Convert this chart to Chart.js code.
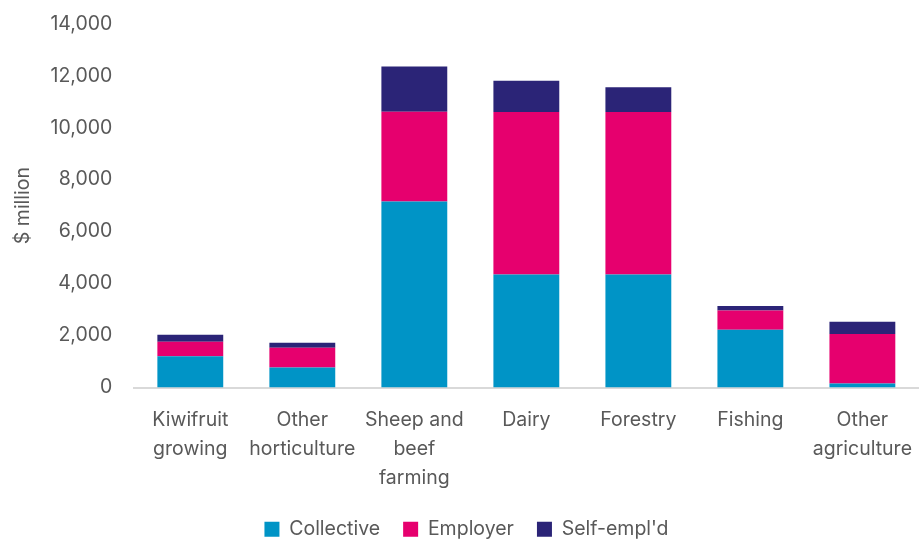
<!DOCTYPE html>
<html>
<head>
<meta charset="utf-8">
<script src="https://cdn.jsdelivr.net/npm/chart.js@4"></script>
<style>
  html, body { margin: 0; padding: 0; background: #fff; overflow: hidden; }
  #wrap { width: 922px; height: 545px; overflow: hidden; }
  #myChart { margin-top: -2px; display: block; }
</style>
</head>
<body>
<div id="wrap"><canvas id="myChart" width="922" height="547"></canvas></div>
<script>
const categories = [
  ["Kiwifruit", "growing"],
  ["Other", "horticulture"],
  ["Sheep and", "beef", "farming"],
  ["Dairy"],
  ["Forestry"],
  ["Fishing"],
  ["Other", "agriculture"],
];
const collective = [1200, 770, 7160, 4350, 4350, 2220, 150];
const employer = [560, 760, 3450, 6250, 6250, 740, 1910];
const selfEmployed = [270, 190, 1740, 1200, 950, 180, 470];
const yTicks = [0, 2000, 4000, 6000, 8000, 10000, 12000, 14000];

const textColor = "#595959";
const fontFamily = "Inter, 'Liberation Sans', Arial, sans-serif";

const data = {
  labels: categories,
  datasets: [
    { label: "Collective", data: collective, backgroundColor: "#0094c6" },
    { label: "Employer", data: employer, backgroundColor: "#e6006e" },
    { label: "Self-empl'd", data: selfEmployed, backgroundColor: "#2b2477" },
  ],
};

const config = {
  type: "bar",
  data: data,
  options: {
    responsive: false,
    animation: false,
    layout: { padding: { left: 11, right: 0, top: 0, bottom: -4 } },
    datasets: {
      bar: { barPercentage: 0.6, categoryPercentage: 0.98 },
    },
    scales: {
      x: {
        stacked: true,
        grid: { display: false },
        border: { display: true, color: "#d9d9d9", width: 2 },
        afterFit: (axis) => {
          axis.height -= 6;
        },
        ticks: {
          color: textColor,
          padding: 10,
          maxRotation: 0,
          autoSkip: false,
          font: { family: fontFamily, size: 19.5, lineHeight: 1.487 },
        },
      },
      y: {
        stacked: true,
        min: 0,
        max: 14000,
        afterBuildTicks: (axis) => {
          axis.ticks = yTicks.map((v) => ({ value: v }));
        },
        grid: { display: false },
        border: { display: false },
        ticks: {
          color: textColor,
          padding: 14,
          font: { family: fontFamily, size: 19.5 },
          callback: (v) => v.toLocaleString("en-US"),
        },
        title: {
          display: true,
          text: "$ million",
          color: textColor,
          padding: { top: 0, bottom: 2 },
          font: { family: fontFamily, size: 19.5 },
        },
      },
    },
    plugins: {
      legend: {
        position: "bottom",
        labels: {
          color: textColor,
          boxWidth: 15,
          boxHeight: 15,
          padding: 23,
          font: { family: fontFamily, size: 19.5 },
        },
      },
      tooltip: { enabled: false },
    },
  },
};

// render init block
const myChart = new Chart(document.getElementById("myChart"), config);
</script>
</body>
</html>
